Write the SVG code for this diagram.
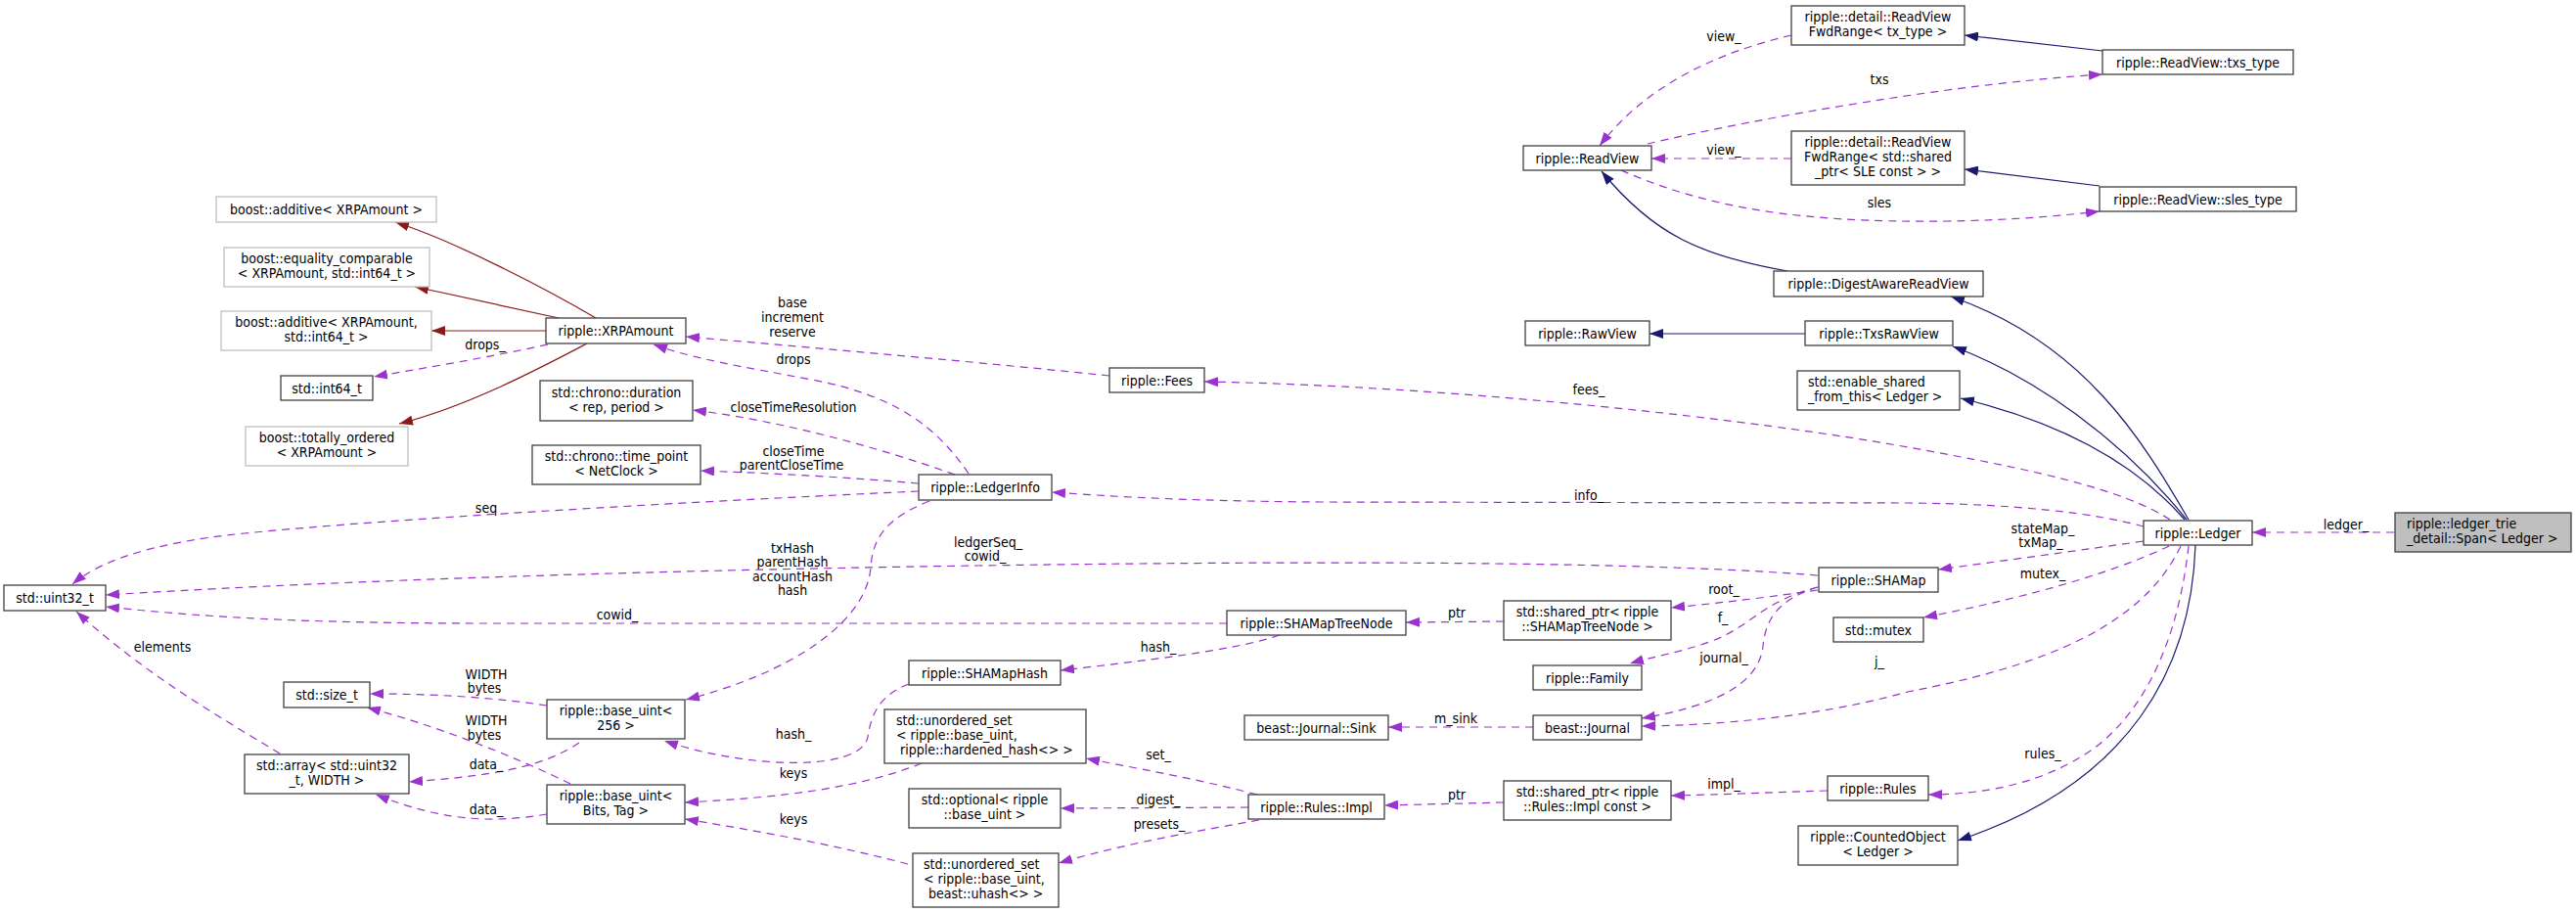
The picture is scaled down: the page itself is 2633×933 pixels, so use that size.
<svg xmlns="http://www.w3.org/2000/svg" width="2633" height="933" viewBox="0 0 2633 933">
<style>
text{font-family:"DejaVu Sans Condensed","DejaVu Sans",sans-serif;font-stretch:condensed;font-size:14px;fill:#000}
.c{text-anchor:middle}
.box{fill:#fff;stroke:#404040;stroke-width:1.3}
.gbox{fill:#fff;stroke:#bfbfbf;stroke-width:1.3}
.root{fill:#bfbfbf;stroke:#404040;stroke-width:1.3}
.u{fill:none;stroke:#9a32cd;stroke-width:1.2;stroke-dasharray:8,6;marker-end:url(#ap)}
.i{fill:none;stroke:#191970;stroke-width:1.2;marker-end:url(#ab)}
.r{fill:none;stroke:#8b1a1a;stroke-width:1.2;marker-end:url(#ar)}
</style>
<defs>
<marker id="ap" viewBox="0 0 14 10" refX="14" refY="5" markerWidth="14" markerHeight="10" markerUnits="userSpaceOnUse" orient="auto"><path d="M0,0 L14,5 L0,10 z" fill="#9a32cd"/></marker>
<marker id="ab" viewBox="0 0 14 10" refX="14" refY="5" markerWidth="14" markerHeight="10" markerUnits="userSpaceOnUse" orient="auto"><path d="M0,0 L14,5 L0,10 z" fill="#191970"/></marker>
<marker id="ar" viewBox="0 0 14 10" refX="14" refY="5" markerWidth="14" markerHeight="10" markerUnits="userSpaceOnUse" orient="auto"><path d="M0,0 L14,5 L0,10 z" fill="#8b1a1a"/></marker>
</defs>
<rect width="2633" height="933" fill="#fff"/>

<g id="connectors">
<!-- usage (dashed purple) -->
<path class="u" d="M2447,544 L2302,544"/>
<text class="c" x="2398" y="541">ledger_</text>
<path class="u" d="M2218,531 C2170,500 2080,480 1950,457 C1800,430 1500,395 1231,390"/>
<text class="c" x="1624" y="403">fees_</text>
<path class="u" d="M2191,538 C2140,524 2060,515 1950,514 L1350,513 C1200,512 1120,506 1075,503"/>
<text class="c" x="1624" y="511">info_</text>
<path class="u" d="M2191,553 C2100,566 2040,574 1981,582"/>
<text class="c" x="2088" y="545">stateMap_</text>
<text class="c" x="2086" y="559">txMap_</text>
<path class="u" d="M2217,558 C2150,590 2050,615 1966,631"/>
<text class="c" x="2088" y="591">mutex_</text>
<path class="u" d="M2229,558 C2190,640 2090,680 1950,707 C1860,732 1760,741 1678,742"/>
<text class="c" x="1921" y="681">j_</text>
<path class="u" d="M2237,558 C2228,640 2200,720 2140,765 C2090,800 2030,812 1971,812"/>
<text class="c" x="2088" y="775">rules_</text>
<path class="u" d="M1858,603 C1810,610 1760,616 1708,621"/>
<text class="c" x="1762" y="607">root_</text>
<path class="u" d="M1537,635 L1437,636"/>
<text class="c" x="1489" y="631">ptr</text>
<path class="u" d="M1858,600 C1800,615 1790,640 1750,655 C1720,666 1690,671 1666,678"/>
<text class="c" x="1761" y="636">f_</text>
<path class="u" d="M1858,600 C1820,612 1805,630 1802,660 C1798,700 1750,722 1678,734"/>
<text class="c" x="1762" y="677">journal_</text>
<path class="u" d="M1308,649 C1270,662 1200,672 1084,685"/>
<text class="c" x="1184" y="666">hash_</text>
<path class="u" d="M1858,588 C1700,575 1400,572 1000,578 C600,584 300,596 108,608"/>
<text class="c" x="1010" y="559">ledgerSeq_</text>
<text class="c" x="1007" y="573">cowid_</text>
<path class="u" d="M1254,637 L500,637 C330,637 220,632 108,620"/>
<text class="c" x="631" y="633">cowid_</text>
<path class="u" d="M939,502 C700,513 400,530 250,545 C150,555 100,575 74,597"/>
<text class="c" x="497" y="524">seq</text>
<path class="u" d="M950,512 C905,530 892,550 890,580 C885,640 800,690 701,715"/>
<text class="c" x="810" y="565">txHash</text>
<text class="c" x="810" y="579">parentHash</text>
<text class="c" x="810" y="593.5">accountHash</text>
<text class="c" x="810" y="608">hash</text>
<path class="u" d="M990,484 C960,440 920,405 830,388 C760,375 710,367 668,352"/>
<text class="c" x="811" y="372">drops</text>
<path class="u" d="M976,485 C900,458 800,430 708,419"/>
<text class="c" x="811" y="421">closeTimeResolution</text>
<path class="u" d="M939,494 C870,488 800,484 716,481"/>
<text class="c" x="811" y="466">closeTime</text>
<text class="c" x="809" y="480">parentCloseTime</text>
<path class="u" d="M1134,384 C1000,370 850,357 701,344"/>
<text class="c" x="810" y="314">base</text>
<text class="c" x="810" y="329">increment</text>
<text class="c" x="810" y="344">reserve</text>
<path class="u" d="M560,352 C500,365 440,375 382,385"/>
<text class="c" x="496" y="357">drops_</text>
<path class="u" d="M559,721 C500,712 440,709 378,709"/>
<text class="c" x="497" y="694">WIDTH</text>
<text class="c" x="495" y="708">bytes</text>
<path class="u" d="M592,759 C560,780 520,792 418,799"/>
<text class="c" x="497" y="786">data_</text>
<path class="u" d="M583,801 C520,770 440,740 375,723"/>
<text class="c" x="497" y="741">WIDTH</text>
<text class="c" x="495" y="756">bytes</text>
<path class="u" d="M559,832 C510,840 460,842 384,812"/>
<text class="c" x="497" y="832">data_</text>
<path class="u" d="M286,770 C220,730 150,690 78,625"/>
<text class="c" x="166" y="666">elements</text>
<path class="u" d="M929,699 C895,712 890,735 887,753 C880,790 760,785 679,757"/>
<text class="c" x="811" y="755">hash_</text>
<path class="u" d="M942,780 C880,805 800,815 700,820"/>
<text class="c" x="811" y="795">keys</text>
<path class="u" d="M928,883 C860,865 780,850 700,837"/>
<text class="c" x="811" y="842">keys</text>
<path class="u" d="M1285,812 C1220,795 1160,785 1110,775"/>
<text class="c" x="1184" y="776">set_</text>
<path class="u" d="M1276,825 L1084,826"/>
<text class="c" x="1184" y="822">digest_</text>
<path class="u" d="M1287,838 C1220,850 1150,862 1082,882"/>
<text class="c" x="1185" y="847">presets_</text>
<path class="u" d="M1537,820 L1415,823"/>
<text class="c" x="1489" y="817">ptr</text>
<path class="u" d="M1868,808 C1800,810 1760,812 1708,813"/>
<text class="c" x="1762" y="806">impl_</text>
<path class="u" d="M1567,743 L1419,743"/>
<text class="c" x="1488" y="739">m_sink</text>
<path class="u" d="M1831,36 C1750,55 1680,90 1635,149"/>
<text class="c" x="1762" y="42">view_</text>
<path class="u" d="M1684,147 C1800,120 2000,85 2149,76"/>
<text class="c" x="1921" y="86">txs</text>
<path class="u" d="M1831,162 L1688,162"/>
<text class="c" x="1762" y="158">view_</text>
<path class="u" d="M1657,174 C1740,210 1830,228 1990,226 C2060,225 2110,220 2146,216"/>
<text class="c" x="1921" y="212">sles</text>
<!-- inheritance (solid blue) -->
<path class="i" d="M2149,52 L2008,36"/>
<path class="i" d="M2146,190 L2008,173"/>
<path class="i" d="M1827,277 C1740,262 1690,240 1637,175"/>
<path class="i" d="M1845,341 L1686,341"/>
<path class="i" d="M2237,531 C2190,450 2130,350 1994,303"/>
<path class="i" d="M2235,531 C2170,450 2080,385 1996,354"/>
<path class="i" d="M2233,531 C2180,470 2100,430 2004,407"/>
<path class="i" d="M2244,557 C2240,680 2180,800 2001,859"/>
<!-- inheritance (solid red) -->
<path class="r" d="M609,325 C570,302 470,248 404,227"/>
<path class="r" d="M571,325 L424,293"/>
<path class="r" d="M558,338 L441,338"/>
<path class="r" d="M600,351 C560,372 480,415 408,433"/>
</g>

<g id="n_add1"><rect class="gbox" x="221" y="201" width="225" height="26"/><text class="c" x="333.5" y="219">boost::additive&lt; XRPAmount &gt;</text></g>
<g id="n_eq"><rect class="gbox" x="229" y="253" width="210" height="40"/><text class="c" x="334" y="269">boost::equality_comparable</text><text class="c" x="334" y="284">&lt; XRPAmount, std::int64_t &gt;</text></g>
<g id="n_add2"><rect class="gbox" x="226" y="318" width="215" height="40"/><text class="c" x="333.5" y="334">boost::additive&lt; XRPAmount,</text><text class="c" x="333.5" y="349">std::int64_t &gt;</text></g>
<g id="n_int64"><rect class="box" x="287" y="384" width="94" height="25"/><text class="c" x="334" y="401.5">std::int64_t</text></g>
<g id="n_tot"><rect class="gbox" x="251" y="436" width="166" height="40"/><text class="c" x="334" y="452">boost::totally_ordered</text><text class="c" x="334" y="467">&lt; XRPAmount &gt;</text></g>
<g id="n_xrp"><rect class="box" x="558" y="325" width="143" height="26"/><text class="c" x="629.5" y="343">ripple::XRPAmount</text></g>
<g id="n_dur"><rect class="box" x="552" y="389" width="156" height="41"/><text class="c" x="630" y="405.5">std::chrono::duration</text><text class="c" x="630" y="420.5">&lt; rep, period &gt;</text></g>
<g id="n_tp"><rect class="box" x="544" y="455" width="172" height="40"/><text class="c" x="630" y="471">std::chrono::time_point</text><text class="c" x="630" y="486">&lt; NetClock &gt;</text></g>
<g id="n_fees"><rect class="box" x="1134" y="376" width="97" height="25"/><text class="c" x="1182.5" y="393.5">ripple::Fees</text></g>
<g id="n_li"><rect class="box" x="939" y="485" width="136" height="26"/><text class="c" x="1007" y="503">ripple::LedgerInfo</text></g>
<g id="n_u32"><rect class="box" x="4" y="598" width="104" height="26"/><text class="c" x="56" y="616">std::uint32_t</text></g>
<g id="n_size"><rect class="box" x="290" y="697" width="88" height="26"/><text class="c" x="334" y="715">std::size_t</text></g>
<g id="n_arr"><rect class="box" x="250" y="771" width="168" height="40"/><text class="c" x="334" y="787">std::array&lt; std::uint32</text><text class="c" x="334" y="802">_t, WIDTH &gt;</text></g>
<g id="n_bu256"><rect class="box" x="559" y="715" width="141" height="40"/><text class="c" x="629.5" y="731">ripple::base_uint&lt;</text><text class="c" x="629.5" y="746">256 &gt;</text></g>
<g id="n_bubits"><rect class="box" x="559" y="802" width="141" height="40"/><text class="c" x="629.5" y="818">ripple::base_uint&lt;</text><text class="c" x="629.5" y="833">Bits, Tag &gt;</text></g>
<g id="n_smh"><rect class="box" x="929" y="675" width="155" height="25"/><text class="c" x="1006.5" y="692.5">ripple::SHAMapHash</text></g>
<g id="n_us1"><rect class="box" x="904" y="725" width="206" height="55"/><text x="916" y="740.5">std::unordered_set</text><text x="916" y="755.5">&lt; ripple::base_uint,</text><text x="920" y="770.5">ripple::hardened_hash&lt;&gt; &gt;</text></g>
<g id="n_opt"><rect class="box" x="929" y="806" width="155" height="40"/><text class="c" x="1006.5" y="822">std::optional&lt; ripple</text><text class="c" x="1006.5" y="837">::base_uint &gt;</text></g>
<g id="n_us2"><rect class="box" x="933" y="872" width="149" height="55"/><text x="944" y="887.5">std::unordered_set</text><text x="944" y="902.5">&lt; ripple::base_uint,</text><text x="949" y="917.5">beast::uhash&lt;&gt; &gt;</text></g>
<g id="n_smtn"><rect class="box" x="1254" y="624" width="183" height="25"/><text class="c" x="1345.5" y="641.5">ripple::SHAMapTreeNode</text></g>
<g id="n_fwd1"><rect class="box" x="1831" y="6" width="177" height="40"/><text class="c" x="1919.5" y="22">ripple::detail::ReadView</text><text class="c" x="1919.5" y="37">FwdRange&lt; tx_type &gt;</text></g>
<g id="n_rv"><rect class="box" x="1557" y="149" width="131" height="25"/><text class="c" x="1622.5" y="166.5">ripple::ReadView</text></g>
<g id="n_fwd2"><rect class="box" x="1831" y="134" width="177" height="55"/><text class="c" x="1919.5" y="149.5">ripple::detail::ReadView</text><text class="c" x="1919.5" y="164.5">FwdRange&lt; std::shared</text><text class="c" x="1919.5" y="179.5">_ptr&lt; SLE const &gt; &gt;</text></g>
<g id="n_dar"><rect class="box" x="1813" y="277" width="214" height="26"/><text class="c" x="1920" y="295">ripple::DigestAwareReadView</text></g>
<g id="n_raw"><rect class="box" x="1559" y="328" width="127" height="25"/><text class="c" x="1622.5" y="345.5">ripple::RawView</text></g>
<g id="n_txsraw"><rect class="box" x="1845" y="328" width="151" height="25"/><text class="c" x="1920.5" y="345.5">ripple::TxsRawView</text></g>
<g id="n_esft"><rect class="box" x="1837" y="379" width="166" height="40"/><text x="1848" y="395">std::enable_shared</text><text x="1848" y="410">_from_this&lt; Ledger &gt;</text></g>
<g id="n_txst"><rect class="box" x="2149" y="51" width="195" height="25"/><text class="c" x="2246.5" y="68.5">ripple::ReadView::txs_type</text></g>
<g id="n_slest"><rect class="box" x="2146" y="191" width="201" height="25"/><text class="c" x="2246.5" y="208.5">ripple::ReadView::sles_type</text></g>
<g id="n_shamap"><rect class="box" x="1859" y="580" width="122" height="25"/><text class="c" x="1920" y="597.5">ripple::SHAMap</text></g>
<g id="n_sp1"><rect class="box" x="1537" y="614" width="171" height="40"/><text class="c" x="1622.5" y="630">std::shared_ptr&lt; ripple</text><text class="c" x="1622.5" y="645">::SHAMapTreeNode &gt;</text></g>
<g id="n_family"><rect class="box" x="1567" y="680" width="111" height="25"/><text class="c" x="1622.5" y="697.5">ripple::Family</text></g>
<g id="n_mutex"><rect class="box" x="1874" y="631" width="92" height="25"/><text class="c" x="1920" y="648.5">std::mutex</text></g>
<g id="n_journal"><rect class="box" x="1567" y="731" width="111" height="25"/><text class="c" x="1622.5" y="748.5">beast::Journal</text></g>
<g id="n_sink"><rect class="box" x="1272" y="731" width="147" height="25"/><text class="c" x="1345.5" y="748.5">beast::Journal::Sink</text></g>
<g id="n_impl"><rect class="box" x="1276" y="812" width="139" height="25"/><text class="c" x="1345.5" y="829.5">ripple::Rules::Impl</text></g>
<g id="n_sp2"><rect class="box" x="1537" y="798" width="171" height="40"/><text class="c" x="1622.5" y="814">std::shared_ptr&lt; ripple</text><text class="c" x="1622.5" y="829">::Rules::Impl const &gt;</text></g>
<g id="n_rules"><rect class="box" x="1868" y="793" width="103" height="25"/><text class="c" x="1919.5" y="810.5">ripple::Rules</text></g>
<g id="n_counted"><rect class="box" x="1838" y="844" width="163" height="40"/><text class="c" x="1919.5" y="860">ripple::CountedObject</text><text class="c" x="1919.5" y="875">&lt; Ledger &gt;</text></g>
<g id="n_ledger"><rect class="box" x="2191" y="532" width="111" height="25"/><text class="c" x="2246.5" y="549.5">ripple::Ledger</text></g>
<g id="n_span"><rect class="root" x="2448" y="524" width="180" height="40"/><text x="2460" y="540">ripple::ledger_trie</text><text x="2460" y="555">_detail::Span&lt; Ledger &gt;</text></g>
</svg>
